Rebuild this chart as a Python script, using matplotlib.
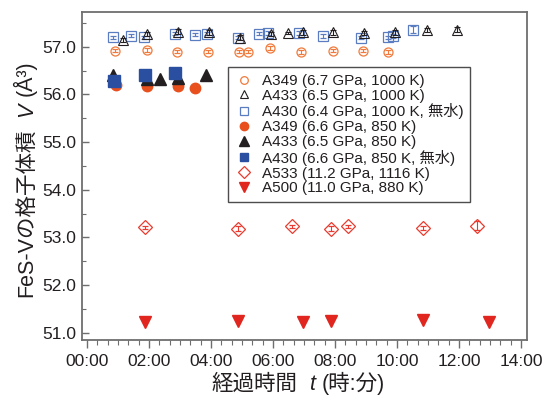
import matplotlib
matplotlib.use("Agg")
import matplotlib.pyplot as plt
from matplotlib.lines import Line2D
from matplotlib.ticker import MultipleLocator, FuncFormatter

FAM = ['Liberation Sans', 'Noto Sans CJK JP', 'DejaVu Sans']
plt.rcParams['font.family'] = FAM

# elapsed time in hours, lattice volume in Å^3
t_a349_1000 = [0.90, 1.93, 2.91, 3.91, 4.91, 5.20, 5.90, 6.89, 7.93, 8.91, 9.72]
v_a349_1000 = [56.92, 56.94, 56.90, 56.90, 56.90, 56.90, 56.97, 56.89, 56.92, 56.92, 56.89]
e_a349_1000 = [0.04, 0.04, 0.04, 0.04, 0.03, 0.03, 0.04, 0.04, 0.04, 0.04, 0.04]

t_a433_1000 = [1.17, 1.95, 2.95, 3.94, 4.94, 5.93, 6.47, 6.96, 7.95, 8.94, 9.94, 10.96, 11.93]
v_a433_1000 = [57.15, 57.27, 57.32, 57.30, 57.19, 57.27, 57.29, 57.30, 57.30, 57.29, 57.30, 57.36, 57.36]
e_a433_1000 = [0.04, 0.05, 0.05, 0.05, 0.05, 0.05, 0.03, 0.05, 0.05, 0.05, 0.05, 0.04, 0.05]

t_a430_1000 = [0.85, 1.42, 1.84, 2.84, 3.48, 3.86, 4.87, 5.55, 5.84, 6.84, 7.61, 8.84, 9.71, 9.87, 10.52]
v_a430_1000 = [57.20, 57.23, 57.20, 57.27, 57.25, 57.27, 57.19, 57.27, 57.29, 57.29, 57.23, 57.19, 57.20, 57.23, 57.36]
e_a430_1000 = [0.03, 0.03, 0.03, 0.03, 0.03, 0.03, 0.03, 0.03, 0.04, 0.04, 0.04, 0.03, 0.03, 0.04, 0.08]

t_a349_850 = [0.94, 1.95, 2.93, 3.48]
v_a349_850 = [56.20, 56.18, 56.18, 56.14]

t_a433_850 = [0.85, 1.94, 2.35, 2.94, 3.84]
v_a433_850 = [56.41, 56.33, 56.33, 56.35, 56.41]

t_a430_850 = [0.87, 1.87, 2.84]
v_a430_850 = [56.29, 56.41, 56.45]

t_a533 = [1.87, 4.86, 6.60, 7.86, 8.43, 10.85, 12.59]
v_a533 = [53.21, 53.18, 53.23, 53.18, 53.23, 53.19, 53.25]
e_a533 = [0.04, 0.05, 0.04, 0.05, 0.03, 0.04, 0.09]

t_a500 = [1.89, 4.88, 6.98, 7.86, 10.85, 12.97]
v_a500 = [51.22, 51.24, 51.22, 51.24, 51.26, 51.22]

labels = ["A349 (6.7 GPa, 1000 K)", "A433 (6.5 GPa, 1000 K)", "A430 (6.4 GPa, 1000 K, 無水)",
          "A349 (6.6 GPa, 850 K)", "A433 (6.5 GPa, 850 K)", "A430 (6.6 GPa, 850 K, 無水)",
          "A533 (11.2 GPa, 1116 K)", "A500 (11.0 GPa, 880 K)"]

ylabel_parts = [("FeS-Vの格子体積", 'normal'), ("V", 'italic'), ("(Å³)", 'normal')]
xlabel_parts = [("経過時間", 'normal'), ("t", 'italic'), ("(時:分)", 'normal')]

orange = '#f07a3c'
orange_f = '#e8501e'
blue_o = '#5a7cc0'
blue_f = '#2a4fa0'
black = '#231f20'
red_o = '#ea3b30'
red_f = '#e0261e'

W, H = 544, 399
fig = plt.figure(figsize=(W / 100, H / 100), dpi=100)
ax = fig.add_axes([0.150, 0.148, 0.818, 0.822])

eb = dict(elinewidth=0.8, capsize=2.5, capthick=0.8)
ax.errorbar(t_a349_1000, v_a349_1000, yerr=e_a349_1000, fmt='o', ms=6.5, mfc='none',
            mec=orange, mew=0.9, ecolor=orange, zorder=3, **eb)
ax.errorbar(t_a433_1000, v_a433_1000, yerr=e_a433_1000, fmt='^', ms=7.5, mfc='none',
            mec=black, mew=0.8, ecolor=black, zorder=4, **eb)
ax.errorbar(t_a430_1000, v_a430_1000, yerr=e_a430_1000, fmt='s', ms=7, mfc='none',
            mec=blue_o, mew=0.9, ecolor=blue_o, zorder=3, **eb)
ax.plot(t_a349_850, v_a349_850, 'o', ms=7.5, color=orange_f, zorder=3)
ax.plot(t_a433_850, v_a433_850, '^', ms=8, color=black, zorder=3)
ax.plot(t_a430_850, v_a430_850, 's', ms=8, color=blue_f, zorder=4)
ax.errorbar(t_a533, v_a533, yerr=e_a533, fmt='D', ms=7, mfc='none',
            mec=red_o, mew=0.9, ecolor=red_o, zorder=3, **eb)
ax.plot(t_a500, v_a500, 'v', ms=8.5, color=red_f, zorder=3)

ax.set_xlim(-0.17, 14.18)
ax.set_ylim(50.85, 57.73)
ax.xaxis.set_major_locator(MultipleLocator(2))
ax.xaxis.set_minor_locator(MultipleLocator(1/3))
ax.xaxis.set_major_formatter(FuncFormatter(lambda v, p: f"{int(round(v)):02d}:00"))
ax.yaxis.set_major_locator(MultipleLocator(1))
ax.yaxis.set_minor_locator(MultipleLocator(0.5))
ax.yaxis.set_major_formatter(FuncFormatter(lambda v, p: f"{v:.1f}"))

spine_c = '#6e6e6e'
for s in ax.spines.values():
    s.set_color(spine_c)
    s.set_linewidth(1.3)
ax.tick_params(axis='x', which='both', direction='out', colors=spine_c, labelcolor=black, labelsize=12.5, pad=4)
ax.tick_params(axis='x', which='major', length=6, width=1.0)
ax.tick_params(axis='x', which='minor', length=3.5, width=0.8)
ax.tick_params(axis='y', which='both', direction='in', colors=spine_c, labelcolor=black, labelsize=12.5, pad=4)
ax.tick_params(axis='y', which='major', length=5, width=1.0)
ax.tick_params(axis='y', which='minor', length=3, width=0.8)

handles = [
    Line2D([], [], ls='none', marker='o', ms=5.5, mfc='none', mec=orange, mew=0.9),
    Line2D([], [], ls='none', marker='^', ms=6, mfc='none', mec=black, mew=0.8),
    Line2D([], [], ls='none', marker='s', ms=5.5, mfc='none', mec=blue_o, mew=0.9),
    Line2D([], [], ls='none', marker='o', ms=6, color=orange_f),
    Line2D([], [], ls='none', marker='^', ms=6.5, color=black),
    Line2D([], [], ls='none', marker='s', ms=6, color=blue_f),
    Line2D([], [], ls='none', marker='D', ms=6, mfc='none', mec=red_o, mew=0.9),
    Line2D([], [], ls='none', marker='v', ms=7, color=red_f),
]
leg = ax.legend(handles, labels, loc='upper left', bbox_to_anchor=(0.328, 0.832), borderaxespad=0,
                fontsize=11, frameon=True, fancybox=False, edgecolor=black, handlelength=1.2,
                handletextpad=0.6, labelspacing=0.05, borderpad=0.45)
leg.get_frame().set_linewidth(1.0)
leg.set_zorder(2)
for t in leg.get_texts():
    t.set_color(black)

# composite axis labels (mixed CJK / italic), laid out piecewise
fig.canvas.draw()
renderer = fig.canvas.get_renderer()
LFS = 15.5
gaps = [12, 6]


def piece_texts(parts, rotation):
    out = []
    for s, st in parts:
        t = fig.text(0, 0, s, fontsize=LFS, style=st, color=black, family=FAM,
                     rotation=rotation, rotation_mode='anchor', ha='left', va='baseline')
        out.append(t)
    return out


# x label: centered at x=298 px, baseline 9 px from bottom
xt = piece_texts(xlabel_parts, 0)
ws = [t.get_window_extent(renderer).width for t in xt]
total = sum(ws) + sum(gaps)
x = 298 - total / 2
for i, t in enumerate(xt):
    t.set_position((x / W, 9 / H))
    x += ws[i] + (gaps[i] if i < len(gaps) else 0)

# y label: rotated, baseline at x=32 px, centered at y=220 px from bottom
yt = piece_texts(ylabel_parts, 90)
hs = [t.get_window_extent(renderer).height for t in yt]
total = sum(hs) + sum(gaps)
y = 220 - total / 2
for i, t in enumerate(yt):
    t.set_position((32 / W, y / H))
    y += hs[i] + (gaps[i] if i < len(gaps) else 0)

fig.savefig("out.png", dpi=100)
